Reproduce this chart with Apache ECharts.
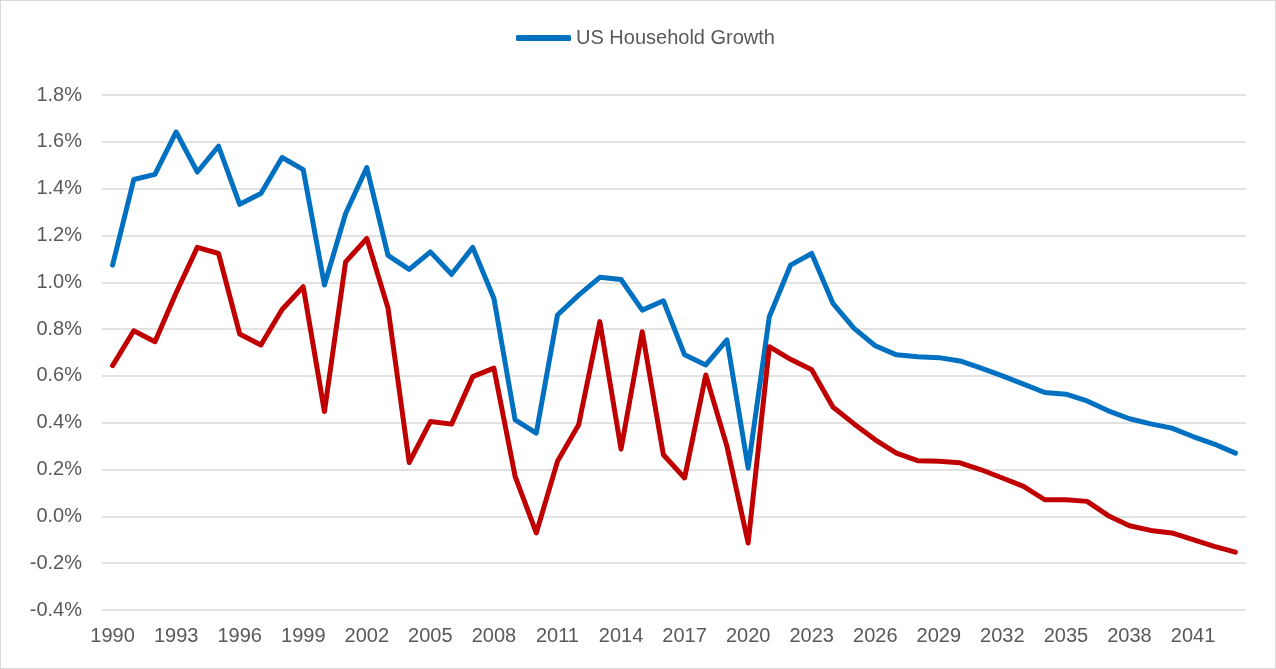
<!DOCTYPE html>
<html>
<head>
<meta charset="utf-8">
<script src="https://cdn.jsdelivr.net/npm/echarts@6/dist/echarts.min.js"></script>
<style>
  html, body { margin: 0; padding: 0; background: #fff; }
  #chart { width: 1274px; height: 667px; border: 1px solid #d9d9d9; }
</style>
</head>
<body>
<div id="chart"></div>
<script>
// years 1990..2043
var years = [];
for (var y = 1990; y <= 2043; y++) years.push(String(y));

// US household growth, % per year (blue)
var householdGrowth = [
  1.073, 1.439, 1.461, 1.642, 1.471, 1.581, 1.333, 1.379, 1.533, 1.481,
  0.988, 1.294, 1.490, 1.115, 1.055, 1.130, 1.034, 1.149, 0.931, 0.412,
  0.356, 0.860, 0.945, 1.021, 1.012, 0.881, 0.921, 0.690, 0.647, 0.754,
  0.206, 0.853, 1.073, 1.123, 0.910, 0.803, 0.729, 0.690, 0.682, 0.678,
  0.664, 0.633, 0.600, 0.565, 0.529, 0.522, 0.493, 0.451, 0.417, 0.395,
  0.377, 0.341, 0.309, 0.270
];

// second series (red), no legend entry
var secondSeries = [
  0.644, 0.793, 0.746, 0.955, 1.149, 1.123, 0.779, 0.732, 0.884, 0.981,
  0.448, 1.087, 1.187, 0.890, 0.230, 0.405, 0.394, 0.597, 0.633, 0.171,
  -0.071, 0.235, 0.391, 0.832, 0.287, 0.789, 0.263, 0.164, 0.604, 0.299,
  -0.114, 0.725, 0.671, 0.626, 0.467, 0.395, 0.327, 0.270, 0.238, 0.235,
  0.229, 0.199, 0.164, 0.128, 0.071, 0.071, 0.064, 0.003, -0.040, -0.060,
  -0.071, -0.099, -0.128, -0.153
];

var chartDom = document.getElementById("chart");
var myChart = echarts.init(chartDom);
var option;

option = {
  animation: false,
  textStyle: { fontFamily: "Liberation Sans" },
  legend: {
    data: [{ name: "US Household Growth", icon: "roundRect" }],
    left: 510,
    top: 22,
    itemWidth: 55,
    itemHeight: 6,
    itemGap: 5,
    itemStyle: { color: "#0070c0" },
    textStyle: { color: "#595959", fontSize: 20 },
  },
  grid: {
    left: 101,
    right: 29,
    top: 94,
    bottom: 58,
    containLabel: false,
  },
  xAxis: {
    type: "category",
    data: years,
    boundaryGap: true,
    axisLine: { show: false },
    axisTick: { show: false },
    axisLabel: {
      interval: 2,
      color: "#595959",
      fontSize: 20,
      margin: 16,
    },
  },
  yAxis: {
    type: "value",
    min: -0.4,
    max: 1.8,
    interval: 0.2,
    axisLine: { show: false },
    axisTick: { show: false },
    splitLine: { lineStyle: { color: "#d9d9d9", width: 1.5 } },
    axisLabel: {
      color: "#595959",
      fontSize: 20,
      margin: 20,
      formatter: function (v) {
        return v.toFixed(1) + "%";
      },
    },
  },
  series: [
    {
      name: "US Household Growth",
      type: "line",
      data: householdGrowth,
      symbol: "none",
      lineStyle: { color: "#0070c0", width: 5, join: "round", cap: "round" },
      itemStyle: { color: "#0070c0" },
    },
    {
      name: "Other",
      type: "line",
      data: secondSeries,
      symbol: "none",
      lineStyle: { color: "#c00000", width: 5, join: "round", cap: "round" },
      itemStyle: { color: "#c00000" },
    },
  ],
};
myChart.setOption(option);
</script>
</body>
</html>
